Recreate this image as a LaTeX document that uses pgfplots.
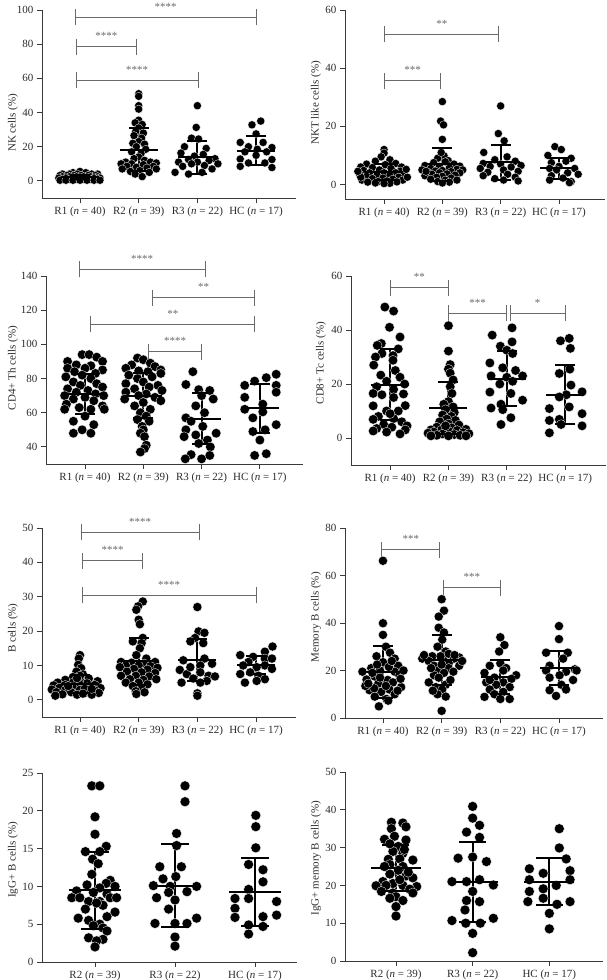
\documentclass[border=0pt]{standalone}
\usepackage{fontspec}
\setmainfont{Liberation Serif}
\usepackage{pgfplots}
\usepackage{pgfplotstable}
\pgfplotsset{compat=1.18}
\definecolor{axc}{HTML}{3A3A3A}
\definecolor{txc}{HTML}{2B2B2B}
\definecolor{brc}{HTML}{6A6A6A}
\pgfplotsset{
  prism/.style={
    scale only axis, clip=false, enlargelimits=false,
    axis lines=left, axis line style={-, draw=axc, line width=0.9pt},
    tick style={draw=axc, line width=0.9pt}, major tick length=5pt, tick align=outside,
    tick label style={font=\fontsize{11}{13}\selectfont, text=txc},
    /pgf/number format/assume math mode=true,
    ylabel style={font=\fontsize{11}{13}\selectfont, text=txc, anchor=center},
    xtick={0,1,2,3},
    xticklabels={{R1 (\textit{n} = 40)},{R2 (\textit{n} = 39)},{R3 (\textit{n} = 22)},{HC (\textit{n} = 17)}},
  },
  three/.style={xtick={0,1,2}, xticklabels={{R2 (\textit{n} = 39)},{R3 (\textit{n} = 22)},{HC (\textit{n} = 17)}}},
  dots/.style={only marks, mark=*, mark size=#1, mark options={fill=black, draw=white, line width=0.3pt}},
  meanbar/.style={only marks, mark=-, mark size=#1, mark options={line width=2pt, draw=black},
    error bars/.cd, y dir=both, y explicit, error mark=none, error bar style={line width=2pt, black}},
  capbar/.style={only marks, mark=-, mark size=#1, mark options={line width=2pt, draw=black}},
}
\newcommand{\brk}[5]{%
  \draw[brc, line width=0.9pt] (axis cs:#1,#3) -- (axis cs:#2,#3);
  \draw[brc, line width=0.9pt] (axis cs:#1,#3) ++(0pt,-8pt) -- ++(0pt,16pt);
  \draw[brc, line width=0.9pt] (axis cs:#2,#3) ++(0pt,-8pt) -- ++(0pt,16pt);
  \node[text=brc, font=\fontsize{11}{13}\selectfont, anchor=base, inner sep=0pt, yshift=7pt] at (axis cs:#4,#3) {#5};
}
% mean and SD per group
\pgfplotstableread{
x m sd lo hi
0 2.2 1.3 0.9 3.5
1 18.3 12.5 5.8 30.8
2 13.8 9.8 4.0 23.6
3 17.6 8.4 9.2 26.0
}\msdA
\pgfplotstableread{
x m sd lo hi
0 4.2 2.8 1.4 7.0
1 7.0 5.7 1.3 12.7
2 7.6 6.0 1.6 13.6
3 5.5 3.5 2.0 9.0
}\msdB
\pgfplotstableread{
x m sd lo hi
0 71 11.5 59.5 82.5
1 70 13 57 83
2 56.5 15 41.5 71.5
3 62.5 14.5 48 77
}\msdC
\pgfplotstableread{
x m sd lo hi
0 19.8 13 6.8 32.8
1 11.1 9.7 1.4 20.8
2 22 10.3 11.7 32.3
3 16 11 5 27
}\msdD
\pgfplotstableread{
x m sd lo hi
0 4.5 2.6 1.9 7.1
1 11.2 6.8 4.4 18
2 11.6 6 5.6 17.6
3 10.2 2.6 7.6 12.8
}\msdE
\pgfplotstableread{
x m sd lo hi
0 19.4 10.8 8.6 30.2
1 24.6 10.5 14.1 35.1
2 17.3 7 10.3 24.3
3 21 7 14 28
}\msdF
\pgfplotstableread{
x m sd lo hi
0 9.5 5.1 4.4 14.6
1 10.1 5.5 4.6 15.6
2 9.3 4.5 4.8 13.8
}\msdG
\pgfplotstableread{
x m sd lo hi
0 24.6 6 18.6 30.6
1 21 10.6 10.4 31.6
2 21 6.3 14.7 27.3
}\msdH
\begin{document}
\begin{tikzpicture}
\path[use as bounding box] (0pt,0pt) rectangle (606pt,980pt);
%% Panel 1: NK
\begin{axis}[prism, at={(42pt,782pt)}, anchor=south west, width=254pt, height=188pt,
  xmin=-0.647, xmax=3.68, ymin=-10, ymax=100, ytick={0,20,40,60,80,100},
  ylabel={NK cells (\%)}, ylabel style={at={(axis description cs:-0.114,0.4)}}]
\addplot[dots=4.1pt] coordinates {(0,5.5)(-0.12,4.8)(0.1,4.8)(-0.3,4)(-0.18,4)(-0.05,4)(0.2,4)(0.3,4)
(-0.34,3.2)(-0.22,3.2)(-0.1,3.2)(0.02,3.2)(0.14,3.2)(0.26,3.2)
(-0.3,2.4)(-0.18,2.4)(-0.06,2.4)(0.06,2.4)(0.18,2.4)(0.3,2.4)
(-0.36,1.7)(-0.24,1.7)(-0.12,1.7)(0,1.7)(0.12,1.7)(0.24,1.7)(0.34,1.7)
(-0.3,1)(-0.18,1)(-0.06,1)(0.06,1)(0.18,1)(0.3,1)
(-0.34,0.4)(-0.24,0.4)(-0.12,0.4)(0,0.4)(0.12,0.4)(0.24,0.4)(0.34,0.4)};
\addplot[dots=4.1pt] coordinates {(1,51)(1,49.5)(1,44)(1,42)(1,35.5)(0.94,34)(1.06,33)(1,31)(0.95,29)(1.08,28)(0.92,26.5)(1.05,25)(1,23)(0.9,22)(1.1,21.5)(0.96,20)(1.12,18.5)(0.88,17)(1.04,16)(1,14)(0.92,13)(1.1,12)(0.78,11)(1.2,11)(1.3,10.5)(0.7,10)(0.88,10)(1.08,9.5)(1.25,8.5)(0.8,8.5)(0.96,8)(1.14,7.5)(0.72,7)(1.3,7)(1.02,6)(0.86,5.5)(1.18,5)(0.94,4)(1.06,2.5)};
\addplot[dots=4.1pt] coordinates {(2,44)(1.98,31.3)(1.9,25)(2.02,24.5)(1.78,20)(2.15,19)(1.72,16.3)(2.1,15.5)(1.95,14.5)(2.3,13)(1.85,12.5)(2.2,12)(1.68,11)(2,11)(1.9,10)(2.35,10)(2.12,9)(1.75,8.5)(2.25,7)(1.62,5)(2.08,5)(1.85,4)};
\addplot[dots=4.1pt] coordinates {(3.08,35)(2.93,32.8)(3,27.5)(2.73,22.5)(3.12,22.5)(2.87,20)(3.27,19.5)(3.02,18.5)(2.81,17)(3.18,17)(3,15)(2.73,12.8)(3.27,12.5)(2.87,10.5)(3.15,10.5)(2.73,8.5)(3.27,7.8)};
\addplot[meanbar=19pt] table[x=x, y=m, y error=sd] {\msdA};
\addplot[capbar=10pt] table[x=x, y=lo] {\msdA};
\addplot[capbar=10pt] table[x=x, y=hi] {\msdA};
\brk{-0.08}{3.0}{95.7}{1.46}{****}
\brk{-0.06}{0.96}{78.6}{0.45}{****}
\brk{-0.06}{2.01}{58.8}{0.975}{****}
\end{axis}
%% Panel 2: NKT
\begin{axis}[prism, at={(345pt,781pt)}, anchor=south west, width=260pt, height=189pt,
  xmin=-0.67, xmax=3.79, ymin=-5, ymax=60, ytick={0,20,40,60},
  ylabel={NKT like cells (\%)}, ylabel style={at={(axis description cs:-0.1115,0.51)}}]
\addplot[dots=4.1pt] coordinates {(0,12)(0,10.8)(-0.05,9.5)(0.1,8.5)(-0.15,8)(0.2,7.2)(-0.3,7)(0.02,6.8)(-0.4,6)(0.3,6)(-0.2,5.8)(0.12,5.5)(-0.08,5)(-0.35,4.8)(0.28,4.6)(0.2,4)(-0.25,4)(0,4)(-0.42,3.5)(0.35,3.5)(-0.12,3.2)(0.1,3)(-0.3,2.8)(0.25,2.5)(-0.02,2.2)(-0.2,2)(0.15,1.8)(-0.38,1.5)(0.32,1.5)(0.05,1.2)(-0.1,1)(0.22,0.9)(-0.28,0.8)(-0.15,0.5)(0.1,0.4)(0,0.3)(-0.4,2.5)(0.4,2.5)(-0.45,4.5)(0.38,5.2)};
\addplot[dots=4.1pt] coordinates {(1,28.5)(0.97,21.8)(1.02,20.5)(1,15.5)(1.03,9.8)(0.92,9)(1.1,8.2)(0.85,7.5)(1.2,7)(0.7,6.5)(1.3,6.3)(0.95,6.2)(1.12,5.8)(0.8,5.5)(1.25,5.2)(0.65,5)(1.35,5)(1,4.8)(0.88,4.6)(1.15,4.4)(0.75,4.2)(1.3,4)(0.95,4)(1.08,3.6)(0.82,3.5)(1.22,3.2)(0.7,3)(1,2.8)(0.9,2.5)(1.15,2.2)(0.8,1.8)(1.05,1.5)(0.92,1)(1.12,0.8)(1,0.5)(1.25,1.5)(0.72,4.5)(1.05,7.8)(0.98,11)};
\addplot[dots=4.1pt] coordinates {(2,27)(1.96,17.5)(2.06,15)(1.71,11)(2.11,9.5)(1.9,8.5)(2.25,8)(1.7,7.2)(2,7)(2.35,6.5)(1.82,6.2)(2.18,6)(1.65,5.5)(2.05,5)(2.3,4.5)(1.78,4.2)(2.12,3.5)(1.7,3)(2.25,2.5)(1.9,2)(2.05,1.5)(2.3,1.2)};
\addplot[dots=4.1pt] coordinates {(2.93,13)(3.04,12)(2.81,10)(3.21,9)(3.12,8)(2.87,7.5)(3,6.2)(2.84,5.5)(3.27,5.5)(2.96,5)(3.15,4)(3.33,3.5)(2.87,3)(3.07,2.2)(2.84,1.5)(3.21,1)(3.18,0.6)};
\addplot[meanbar=19pt] table[x=x, y=m, y error=sd] {\msdB};
\addplot[capbar=10pt] table[x=x, y=lo] {\msdB};
\addplot[capbar=10pt] table[x=x, y=hi] {\msdB};
\brk{0.01}{1.97}{51.6}{0.99}{**}
\brk{0.01}{0.97}{35.6}{0.49}{***}
\end{axis}
%% Panel 3: CD4
\begin{axis}[prism, at={(46pt,516pt)}, anchor=south west, width=257pt, height=188pt,
  xmin=-0.67, xmax=3.74, ymin=30, ymax=140, ytick={40,60,80,100,120,140},
  ylabel={CD4+ Th cells (\%)}, ylabel style={at={(axis description cs:-0.128,0.51)}}]
\addplot[dots=4.8pt] coordinates {(-0.05,94)(0.07,94)(0.2,92.5)(-0.3,90)(0.3,90)(-0.15,88)(0.1,87.5)(-0.3,86)(0,86)(0.3,85)(-0.18,84)(0.18,83)(-0.05,82)(-0.33,81)(0.1,80)(-0.2,78)(0.2,77)(-0.08,76)(0.3,75)(-0.3,74)(0.05,73)(-0.15,72)(0.18,71)(-0.35,70)(0.32,70)(0,69)(-0.2,68)(0.15,67)(-0.32,65)(0.3,64)(-0.1,63)(0.1,62)(-0.35,62)(0.33,62)(0,58)(-0.2,55)(0.15,53)(-0.05,50)(-0.2,48)(0.1,48)};
\addplot[dots=4.8pt] coordinates {(0.9,92)(1,91)(1.12,89)(0.8,88)(1.2,87)(0.7,86)(1.3,85)(0.92,84.5)(1.08,84)(1.3,83)(0.75,82)(1.15,81)(0.9,80)(1,78)(0.7,77)(1.25,76)(1.1,75)(0.85,74)(1.32,73)(0.7,72)(1.05,71)(0.92,70)(1.2,69)(0.68,68)(1.3,67)(1,66)(0.85,64)(1.12,62)(0.95,60)(1.05,58)(0.9,56)(1.1,55)(0.98,52)(1,50)(0.95,48)(1.02,46)(1.05,41)(1.02,39)(0.95,37)};
\addplot[dots=4.8pt] coordinates {(1.85,84)(1.73,76.5)(1.95,73.5)(2.14,73)(2,70)(2.2,68)(1.9,64)(2.05,60)(1.73,57)(1.82,55)(2.02,52)(1.73,50)(2.25,48)(1.9,47)(1.7,46)(2.1,44)(1.95,42)(2.15,40)(1.82,35.5)(2.14,35)(1.72,33)(2,33)};
\addplot[dots=4.8pt] coordinates {(3.28,82.5)(3.11,80.5)(2.91,78.5)(2.74,76)(3.28,76)(3.28,72)(2.74,69)(3.05,65)(2.74,62)(3.05,60.5)(2.88,57)(3.28,53)(3.09,50)(2.88,49)(3,44)(3.11,36)(2.91,35)};
\addplot[meanbar=19pt] table[x=x, y=m, y error=sd] {\msdC};
\addplot[capbar=10pt] table[x=x, y=lo] {\msdC};
\addplot[capbar=10pt] table[x=x, y=hi] {\msdC};
\brk{-0.1}{2.06}{143.9}{0.98}{****}
\brk{1.16}{2.91}{127.4}{2.035}{**}
\brk{0.1}{2.91}{111.8}{1.505}{**}
\brk{1.09}{2.0}{95.8}{1.545}{****}
\end{axis}
%% Panel 4: CD8
\begin{axis}[prism, at={(351pt,515pt)}, anchor=south west, width=255pt, height=189pt,
  xmin=-0.67, xmax=3.7, ymin=-10, ymax=60, ytick={0,20,40,60},
  ylabel={CD8+ Tc cells (\%)}, ylabel style={at={(axis description cs:-0.118,0.54)}}]
\addplot[dots=4.8pt] coordinates {(-0.09,48.5)(0.06,47)(-0.01,41)(0.17,37.4)(-0.15,35)(-0.22,34.3)(0.14,33)(-0.14,31.3)(0.05,30.5)(-0.25,30)(0.05,28.8)(-0.28,27)(0.09,25)(-0.16,23.3)(0.17,22.5)(-0.06,21)(0.25,20)(-0.23,19)(0.06,18)(-0.29,16.5)(0.23,16.3)(-0.14,16)(0.06,15)(-0.29,11.9)(0.26,12)(-0.06,10)(0.14,10)(-0.2,8)(0.06,7.2)(-0.29,6.9)(0.2,6)(-0.11,5)(0.29,4.5)(0.03,4)(-0.23,3.5)(0.26,3)(-0.29,2.6)(-0.06,2.2)(0.17,1.5)(0,9)};
\addplot[dots=4.8pt] coordinates {(1,41.6)(1,32.2)(1.03,27.2)(1,25.5)(1.03,24)(1.08,21.5)(1.03,19)(1.06,16.5)(1,13.5)(0.92,12.5)(1.08,11.5)(0.95,10.5)(1.1,9.5)(0.9,8.5)(1.05,8)(0.97,7)(1.12,6.5)(0.85,6)(1,5.2)(1.18,4.8)(0.8,4)(1.05,3.8)(0.7,3)(1.3,3.2)(0.88,3)(1.15,2.8)(0.75,2.2)(1.25,2)(1,2.5)(0.65,1.8)(1.35,1.6)(0.9,1.5)(1.1,1.3)(0.8,1)(1.2,1)(1,0.8)(0.7,0.8)(1.3,0.8)(0.95,4.5)};
\addplot[dots=4.8pt] coordinates {(2.09,40.8)(1.75,38.1)(2.09,35.6)(1.89,34)(2,32.5)(2.1,31.3)(1.71,27.8)(1.93,26)(1.73,23)(2.27,23)(2,22.5)(2.1,21)(1.88,20)(1.71,17)(2.07,16.5)(2.27,14)(1.9,12.5)(1.73,11.1)(1.93,10.5)(2.07,7.5)(1.9,5)(2.15,25)};
\addplot[dots=4.8pt] coordinates {(3.07,36.9)(2.92,36)(3.09,33.2)(3.08,25.5)(2.9,23.9)(3.1,19.6)(3.29,17.1)(3.02,16)(2.9,15.2)(3.07,11.5)(2.73,10.9)(3.29,9)(2.9,6.9)(2.73,6.5)(2.93,5)(3.29,4.5)(2.73,1.9)};
\addplot[meanbar=19pt] table[x=x, y=m, y error=sd] {\msdD};
\addplot[capbar=10pt] table[x=x, y=lo] {\msdD};
\addplot[capbar=10pt] table[x=x, y=hi] {\msdD};
\brk{0}{1}{55.7}{0.5}{**}
\brk{1}{1.995}{46.2}{1.5}{***}
\brk{2.055}{3}{46.2}{2.53}{*}
\end{axis}
%% Panel 5: B cells
\begin{axis}[prism, at={(42pt,263pt)}, anchor=south west, width=254pt, height=189pt,
  xmin=-0.647, xmax=3.68, ymin=-5, ymax=50, ytick={0,10,20,30,40,50},
  ylabel={B cells (\%)}, ylabel style={at={(axis description cs:-0.114,0.47)}}]
\addplot[dots=4.6pt] coordinates {(0,13)(-0.02,12)(-0.03,10.2)(0.02,9.2)(-0.06,8.2)(0.05,7.4)(-0.12,6.6)(0.15,6.2)(-0.25,5.8)(0,5.8)(0.3,5.4)(-0.38,5)(-0.12,5)(0.12,4.8)(-0.45,4.2)(-0.25,4.3)(0,4.4)(0.25,4.3)(-0.35,3.5)(-0.12,3.6)(0.12,3.6)(0.35,3.4)(-0.48,3)(-0.25,2.8)(0,2.9)(0.25,2.8)(-0.4,2.2)(-0.15,2.2)(0.1,2.1)(0.32,2)(-0.3,1.6)(-0.05,1.5)(0.2,1.5)(-0.42,1.2)(0,7)(0.08,3.2)(-0.2,4)(0.2,3.2)(0.05,1.8)(-0.05,6.3)};
\addplot[dots=4.6pt] coordinates {(1.07,28.6)(0.99,27.2)(0.96,26.2)(1,23.3)(1.02,22)(1.07,18)(0.9,17)(1.05,16.5)(1.02,15)(0.96,13)(1.13,12)(0.7,11)(1.28,11)(0.88,10.8)(1.1,10.5)(0.78,10)(1,10)(1.2,9.8)(1.32,9.3)(0.68,9.5)(0.92,9)(1.15,8.8)(0.8,8.2)(1.05,8)(1.28,7.8)(0.7,7)(0.95,7)(1.18,6.8)(0.85,6)(1.08,5.8)(1.3,6)(0.78,5)(1,5)(1.15,4.5)(0.9,4)(1.05,3.2)(0.95,2.5)(1.1,2.2)(0.96,1.7)};
\addplot[dots=4.6pt] coordinates {(2,27)(2.02,19.9)(2.12,19.5)(1.96,18)(1.88,17)(2.1,16.5)(2.12,12)(1.76,11.5)(2.05,10)(1.7,8.7)(2.05,8)(1.82,7.5)(2.19,7)(2.3,6.8)(1.93,6.2)(2.16,5.5)(1.73,5)(2.05,5)(2,1.9)(2,1.2)(1.88,9.5)(2.25,10.5)};
\addplot[dots=4.6pt] coordinates {(3.28,15.5)(3.15,14)(2.73,13)(2.95,12.5)(3.15,12)(3.27,12)(2.87,11)(2.78,10)(3.15,10)(3.01,9.5)(3.27,9)(2.9,8)(2.73,7.5)(3.04,7)(3.15,6)(3.01,5.5)(2.81,5)};
\addplot[meanbar=19pt] table[x=x, y=m, y error=sd] {\msdE};
\addplot[capbar=10pt] table[x=x, y=lo] {\msdE};
\addplot[capbar=10pt] table[x=x, y=hi] {\msdE};
\brk{0.02}{2.03}{48.7}{1.025}{****}
\brk{0.04}{1.07}{40.5}{0.555}{****}
\brk{0.04}{3}{30.4}{1.52}{****}
\end{axis}
%% Panel 6: Memory B cells
\begin{axis}[prism, at={(345pt,262pt)}, anchor=south west, width=258pt, height=190pt,
  xmin=-0.647, xmax=3.75, ymin=0, ymax=80, ytick={0,20,40,60,80},
  ylabel={Memory B cells (\%)}, ylabel style={at={(axis description cs:-0.112,0.53)}}]
\addplot[dots=4.6pt] coordinates {(0,66.2)(0,39.9)(0,35)(0.05,30)(0.12,27.5)(-0.11,26)(0.2,25)(0,23.5)(0.26,22)(-0.2,21)(-0.05,20)(0.2,19.5)(0.28,18)(-0.14,17.5)(-0.28,16.2)(0.08,16)(0.17,15)(-0.08,14.5)(0.31,13)(0.11,12)(-0.23,11.7)(-0.03,11)(0.2,10)(-0.14,9)(0.06,8)(0.09,7.3)(-0.07,4.9)(-0.3,13.5)(0.3,16.5)(-0.18,19)(0.1,21.5)(-0.05,17)(0.05,13.5)(-0.15,12.5)(0.25,11.5)(-0.35,19.5)(0.35,20)(-0.25,14.5)(0.15,24)(-0.1,22.5)};
\addplot[dots=4.6pt] coordinates {(1,50)(1.04,45.2)(0.95,42.7)(0.95,38)(1.04,36)(1.01,33)(0.93,30)(1.07,28)(1.12,27)(0.84,26)(1.3,25.5)(0.67,25)(1.21,25)(0.78,24)(1.04,24)(1.12,23)(0.87,22)(1.3,22)(1.12,21)(0.95,20)(1.04,19)(0.87,18)(0.95,17)(0.78,15)(1.07,14)(0.9,13)(1.01,12)(0.93,10)(1.07,9)(1,3)(0.7,26.5)(1.22,26.5)(0.98,26)(0.82,21)(1.2,19.5)(1.15,16)(0.85,11.5)(1,22.5)(1.35,24)};
\addplot[dots=4.6pt] coordinates {(2,34)(2.07,30.7)(1.98,28)(2,23)(1.82,22)(2.1,21)(2.05,20)(1.73,19)(2.27,18)(1.9,17)(2.19,16.5)(1.76,15)(2.05,15)(1.93,14)(2.16,13)(1.82,12)(2.05,11)(1.9,10)(1.73,8.9)(2.16,8)(2,8)(1.82,16)};
\addplot[dots=4.6pt] coordinates {(3,38.7)(3,33.2)(2.78,27.5)(3.15,27.5)(3.07,25)(2.84,22)(3.27,20.5)(2.78,20)(3.3,20)(3.12,19.5)(3.01,18)(2.84,17)(3.24,16)(3.04,14)(3.12,12)(2.84,11.7)(2.95,9.3)};
\addplot[meanbar=19pt] table[x=x, y=m, y error=sd] {\msdF};
\addplot[capbar=10pt] table[x=x, y=lo] {\msdF};
\addplot[capbar=10pt] table[x=x, y=hi] {\msdF};
\brk{-0.02}{0.97}{70.8}{0.475}{***}
\brk{1.03}{2}{54.9}{1.515}{***}
\end{axis}
%% Panel 7: IgG+ B cells
\begin{axis}[prism, three, at={(42pt,18pt)}, anchor=south west, width=255pt, height=189pt,
  xmin=-0.6625, xmax=2.525, ymin=0, ymax=25, ytick={0,5,10,15,20,25},
  ylabel={IgG+ B cells (\%)}, ylabel style={at={(axis description cs:-0.114,0.54)}}]
\addplot[dots=5pt] coordinates {(-0.04,23.3)(0.06,23.3)(0,19.2)(0,16.9)(0.14,15.3)(-0.12,14.6)(0.06,14.6)(-0.03,13.6)(0.04,13)(-0.04,11.6)(0.19,10.8)(0.14,10.4)(-0.1,10.2)(0.25,10)(0.06,9.8)(-0.23,9.4)(-0.02,9.2)(0.15,9)(-0.29,8.5)(-0.19,8.5)(0.19,8.5)(0.27,8.5)(-0.08,8)(0.06,8)(0.1,7.5)(0.02,7.8)(-0.12,7)(0.25,6.6)(0.15,6)(-0.21,5.8)(-0.08,5.5)(0.06,5)(-0.02,4.8)(0.1,4.5)(0.15,4.1)(-0.08,3.2)(0.1,3)(0.02,2.8)(0,2)};
\addplot[dots=5pt] coordinates {(1.125,23.3)(1.125,21.2)(1.02,17)(1.02,15.4)(0.81,12.6)(1.08,12.6)(1.01,11.3)(0.85,11)(0.73,10.1)(0.94,10)(1.27,10)(1.15,9.3)(0.77,8.5)(1,8.2)(0.92,7)(1.27,5.8)(0.75,5.1)(1,5.1)(1.15,5.1)(1,3.3)(1,2.1)(0.92,9.2)};
\addplot[dots=5pt] coordinates {(2.01,19.4)(2.01,17.9)(2.01,15.1)(1.92,12.9)(2.1,12.2)(2.1,10.6)(1.92,9.6)(1.75,8.4)(1.92,8.4)(2.27,8)(1.75,7.1)(2.1,6)(2.27,6.2)(1.75,5.9)(1.92,4.9)(2.1,4.7)(1.92,3.7)};
\addplot[meanbar=26pt] table[x=x, y=m, y error=sd] {\msdG};
\addplot[capbar=14pt] table[x=x, y=lo] {\msdG};
\addplot[capbar=14pt] table[x=x, y=hi] {\msdG};
\end{axis}
%% Panel 8: IgG+ memory B cells
\begin{axis}[prism, three, at={(345pt,19pt)}, anchor=south west, width=258pt, height=189pt,
  xmin=-0.665, xmax=2.7, ymin=0, ymax=50, ytick={0,10,20,30,40,50},
  ylabel={IgG+ memory B cells (\%)}, ylabel style={at={(axis description cs:-0.112,0.545)}}]
\addplot[dots=5pt] coordinates {(-0.06,36.7)(0.09,36.5)(0.13,35.5)(-0.06,35)(-0.02,33)(-0.15,32.2)(0.13,32)(0.03,30.3)(-0.04,29)(0.09,28.5)(-0.1,26.9)(0.05,27)(0.22,26.7)(-0.08,25.5)(0.09,25)(0.03,24)(-0.08,23)(0.13,22.5)(0.22,22)(-0.17,21)(-0.04,20.5)(-0.26,19.9)(-0.13,20)(0.09,20)(0.27,19.7)(0.18,19)(-0.19,18.4)(-0.04,18)(0.22,18)(0,17)(-0.08,16.6)(0.09,16)(0,14.4)(0,11.9)(0.05,21.5)(0.16,23.5)(-0.15,25)(0.11,29.5)(-0.08,31)};
\addplot[dots=5pt] coordinates {(1,40.9)(1,37.8)(1.09,35.9)(0.92,34.1)(1.09,32.7)(0.81,27.2)(1,27.5)(1.18,26.3)(0.73,21)(0.92,21)(1.09,21.5)(1.27,20.1)(1,18.4)(0.92,16)(1.09,15.7)(0.9,13.5)(0.73,10.7)(1.27,11.3)(0.91,10)(1.1,10)(1,7.3)(1,2.2)};
\addplot[dots=5pt] coordinates {(2.13,35)(2.13,29.9)(2.22,27)(1.74,24.4)(2.27,23.9)(1.92,23.2)(1.74,21.5)(2.27,21.5)(2.09,20)(1.92,19.1)(1.74,18.4)(1.92,16.6)(1.72,15.7)(2.1,15)(2.27,15.7)(2,12.6)(2,8.5)};
\addplot[meanbar=25pt] table[x=x, y=m, y error=sd] {\msdH};
\addplot[capbar=13.5pt] table[x=x, y=lo] {\msdH};
\addplot[capbar=13.5pt] table[x=x, y=hi] {\msdH};
\end{axis}
\end{tikzpicture}
\end{document}
